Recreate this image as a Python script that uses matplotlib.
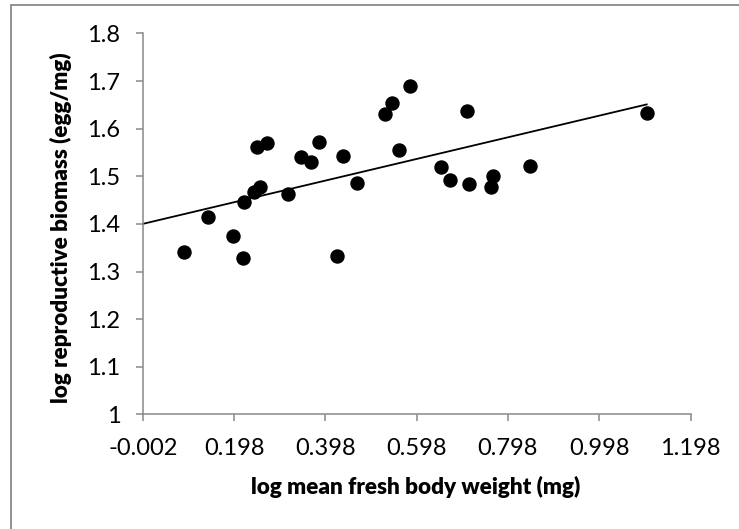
import matplotlib.pyplot as plt
from matplotlib.patches import Rectangle

# body weight vs reproductive biomass, both log-transformed
log_weight = [
    0.088, 0.142, 0.195, 0.218, 0.219, 0.242, 0.256, 0.249, 0.270, 0.317,
    0.345, 0.366, 0.384, 0.423, 0.436, 0.468, 0.528, 0.543, 0.560, 0.584,
    0.652, 0.672, 0.708, 0.713, 0.760, 0.765, 0.847, 1.102,
]
log_biomass = [
    1.342, 1.415, 1.375, 1.328, 1.446, 1.466, 1.477, 1.562, 1.569, 1.463,
    1.540, 1.530, 1.572, 1.332, 1.543, 1.486, 1.631, 1.654, 1.555, 1.689,
    1.519, 1.493, 1.637, 1.483, 1.477, 1.500, 1.521, 1.634,
]

# linear trendline end points
trend_x = [-0.002, 1.102]
trend_y = [1.400, 1.651]

x_ticks = [-0.002, 0.198, 0.398, 0.598, 0.798, 0.998, 1.198]
x_tick_labels = ["-0.002", "0.198", "0.398", "0.598", "0.798", "0.998", "1.198"]
y_ticks = [1.0, 1.1, 1.2, 1.3, 1.4, 1.5, 1.6, 1.7, 1.8]
y_tick_labels = ["1", "1.1", "1.2", "1.3", "1.4", "1.5", "1.6", "1.7", "1.8"]

GRAY = "#898989"

plt.rcParams["font.family"] = ["Lato", "DejaVu Sans"]

fig = plt.figure(figsize=(7.39, 5.29), dpi=100)
ax = fig.add_axes([0.1931, 0.2168, 0.7413, 0.7199])

ax.plot(trend_x, trend_y, color="black", linewidth=1.3, zorder=2)
ax.scatter(log_weight, log_biomass, s=88, color="black", zorder=3)

ax.set_xlim(-0.002, 1.198)
ax.set_ylim(1.0, 1.8)
ax.set_xticks(x_ticks)
ax.set_xticklabels(x_tick_labels)
ax.set_yticks(y_ticks)
ax.set_yticklabels(y_tick_labels)

for side in ["top", "right"]:
    ax.spines[side].set_visible(False)
for side in ["left", "bottom"]:
    ax.spines[side].set_color(GRAY)
    ax.spines[side].set_linewidth(1.1)

ax.tick_params(axis="both", direction="out", length=5, width=1.1,
               color=GRAY, labelsize=17, labelcolor="black")
ax.tick_params(axis="x", pad=12)
ax.tick_params(axis="y", pad=11)

ax.set_xlabel("log mean fresh body weight (mg)", fontsize=16.2, fontweight="heavy")
ax.set_ylabel("log reproductive biomass (egg/mg)", fontsize=16.2, fontweight="heavy")
ax.xaxis.set_label_coords(0.498, -0.162)
ax.yaxis.set_label_coords(-0.129, 0.489)

# chart area frame, cut off at the right and bottom edges
fig.add_artist(Rectangle((11 / 739, -0.1), 1.2, 1.1 - 5 / 529,
                         transform=fig.transFigure, fill=False,
                         edgecolor=GRAY, linewidth=1.3))

fig.savefig("out.png", dpi=100)
plt.close(fig)
